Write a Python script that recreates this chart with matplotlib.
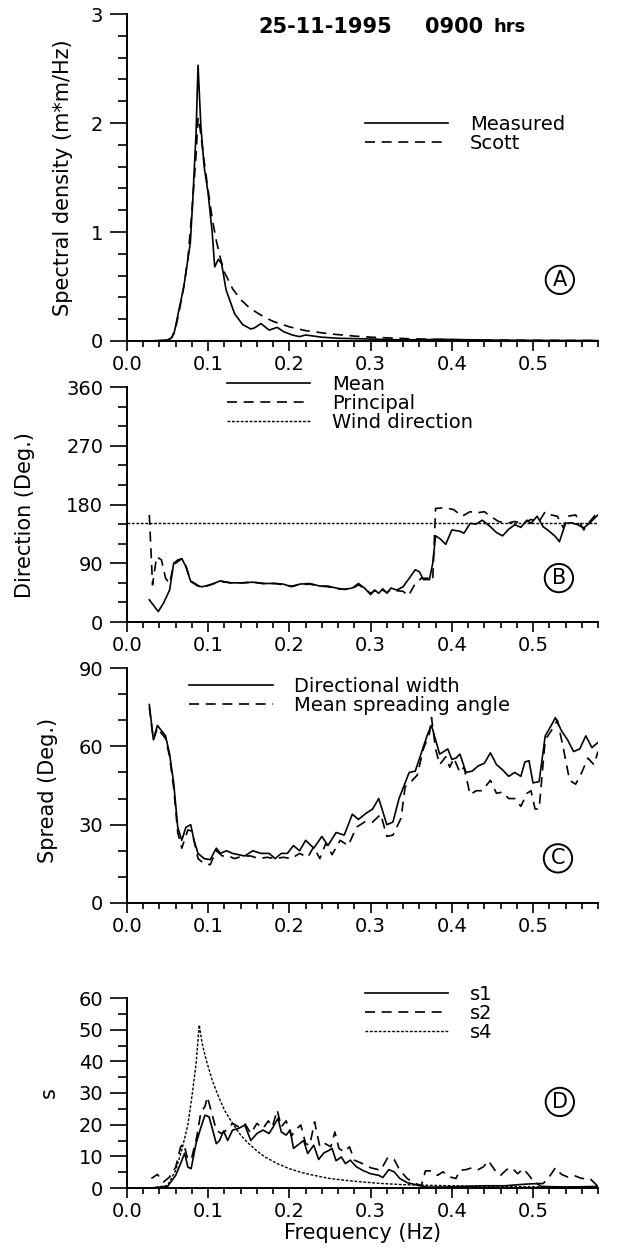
"""Four-panel wave spectrum figure (25-11-1995, 0900 hrs): spectral density,
mean/principal direction, directional spread and spreading parameter s."""
import matplotlib

matplotlib.use("Agg")
import matplotlib.pyplot as plt
from matplotlib.ticker import MultipleLocator, FormatStrFormatter

plt.rcParams["font.family"] = ["DejaVu Sans"]

# ---- panel A: spectral density (m*m/Hz) ----
A_meas_f = [0.028, 0.04, 0.05, 0.055, 0.058, 0.063, 0.07, 0.078, 0.081, 0.085, 0.0875,
            0.091, 0.095, 0.1, 0.105, 0.108, 0.1125, 0.1165, 0.122, 0.1325, 0.1425,
            0.1525, 0.157, 0.165, 0.175, 0.185, 0.193, 0.2035, 0.2125, 0.22, 0.24,
            0.26, 0.29, 0.34, 0.39, 0.45, 0.52, 0.58]
A_meas = [0.0, 0.005, 0.01, 0.03, 0.07, 0.25, 0.5, 0.9, 1.29, 1.9, 2.53,
          1.97, 1.6, 1.35, 0.99, 0.68, 0.75, 0.71, 0.47, 0.25, 0.15,
          0.11, 0.12, 0.16, 0.10, 0.125, 0.085, 0.055, 0.04, 0.055, 0.035,
          0.025, 0.02, 0.01, 0.015, 0.008, 0.005, 0.004]
A_scott_f = [0.03, 0.05, 0.055, 0.06, 0.065, 0.07, 0.075, 0.08, 0.085, 0.0875, 0.09,
             0.095, 0.1, 0.105, 0.11, 0.115, 0.12, 0.13, 0.14, 0.15, 0.16, 0.17,
             0.18, 0.2, 0.22, 0.25, 0.28, 0.3, 0.35, 0.4, 0.45, 0.5, 0.58]
A_scott = [0.0, 0.005, 0.03, 0.12, 0.3, 0.5, 0.75, 1.2, 1.7, 2.05, 1.95,
           1.65, 1.38, 1.12, 0.92, 0.76, 0.63, 0.48, 0.38, 0.31, 0.26, 0.215,
           0.18, 0.13, 0.095, 0.065, 0.045, 0.035, 0.02, 0.012, 0.008, 0.006, 0.004]

# ---- panel B: direction (deg) ----
B_mean_f = [0.0275, 0.0385, 0.045, 0.0525, 0.0575, 0.0625, 0.0675, 0.0725, 0.0785, 0.0875,
            0.0925, 0.1025, 0.115, 0.1275, 0.1425, 0.155, 0.1675, 0.1825, 0.1925, 0.2025,
            0.2125, 0.225, 0.2375, 0.2475, 0.2575, 0.2675, 0.2775, 0.285, 0.2925, 0.3,
            0.305, 0.31, 0.315, 0.32, 0.325, 0.3325, 0.34, 0.3475, 0.355, 0.36,
            0.365, 0.3725, 0.3765, 0.38, 0.385, 0.3925, 0.4, 0.41, 0.415, 0.4225,
            0.43, 0.4375, 0.4475, 0.455, 0.4625, 0.47, 0.4775, 0.485, 0.4925, 0.4975,
            0.505, 0.5125, 0.52, 0.5275, 0.5325, 0.54, 0.5475, 0.555, 0.5625, 0.57, 0.58]
B_mean = [34, 16, 29, 49, 90, 95, 97, 85, 62, 55,
          54, 57, 63, 60, 60, 61, 59, 59, 58, 54,
          58, 59, 55, 55, 52, 50, 52, 59, 52, 42,
          49, 44, 51, 44, 52, 49, 54, 67, 80, 77,
          65, 65, 90, 132, 128, 119, 141, 139, 136, 151,
          150, 156, 146, 137, 132, 142, 149, 145, 156, 151,
          162, 146, 139, 131, 123, 151, 152, 149, 144, 152, 164]
B_prin_f = [0.0275, 0.0315, 0.0365, 0.0425, 0.0475, 0.0525, 0.0575, 0.0675, 0.0725, 0.0785,
            0.0875, 0.0925, 0.1025, 0.115, 0.1275, 0.1425, 0.155, 0.1675, 0.1825, 0.1925,
            0.2025, 0.2125, 0.225, 0.2375, 0.2475, 0.2575, 0.2675, 0.2775, 0.285, 0.2925,
            0.3, 0.305, 0.31, 0.315, 0.32, 0.325, 0.3325, 0.34, 0.3465, 0.355,
            0.3625, 0.3725, 0.3765, 0.38, 0.3925, 0.4025, 0.4125, 0.4225, 0.43, 0.44,
            0.4475, 0.4575, 0.4675, 0.4775, 0.4875, 0.4975, 0.5075, 0.515, 0.5225, 0.53,
            0.5375, 0.5425, 0.5525, 0.5625, 0.57, 0.58]
B_prin = [164, 57, 100, 95, 67, 59, 88, 97, 86, 63,
          56, 53, 57, 62, 60, 60, 61, 59, 59, 57,
          55, 57, 58, 55, 54, 51, 50, 51, 57, 51,
          44, 48, 45, 49, 45, 50, 48, 47, 40, 59,
          67, 67, 64, 174, 175, 172, 162, 169, 167, 169,
          162, 154, 151, 154, 151, 157, 154, 169, 164, 162,
          144, 162, 164, 141, 154, 169]
WIND_DIR = 152

# ---- panel C: spread (deg) ----
C_width_f = [0.0275, 0.0325, 0.0375, 0.0425, 0.0475, 0.0525, 0.0575, 0.0625, 0.0675, 0.0725,
             0.0785, 0.0825, 0.0875, 0.095, 0.1025, 0.11, 0.115, 0.1225, 0.13, 0.1375,
             0.145, 0.155, 0.165, 0.175, 0.1825, 0.19, 0.1975, 0.205, 0.2125, 0.22,
             0.23, 0.24, 0.2475, 0.2575, 0.2675, 0.2775, 0.285, 0.295, 0.3025, 0.31,
             0.32, 0.3275, 0.335, 0.3425, 0.3475, 0.355, 0.3625, 0.37, 0.375, 0.38,
             0.385, 0.39, 0.395, 0.4, 0.405, 0.41, 0.4175, 0.425, 0.4325, 0.44,
             0.4475, 0.455, 0.4625, 0.47, 0.4775, 0.485, 0.49, 0.495, 0.5, 0.5075,
             0.515, 0.5225, 0.5275, 0.535, 0.5425, 0.55, 0.5575, 0.565, 0.5725, 0.58]
C_width = [76, 62.5, 68, 66, 64, 57, 46, 29, 24, 29,
           30, 24, 19, 17, 16.6, 21, 19, 20, 19, 18.5,
           18, 20, 19, 19, 17, 19, 19, 22, 20, 24,
           21, 25.5, 22, 27, 26, 34, 32, 34.5, 36, 40,
           30, 31, 40, 46, 50, 50.5, 57.5, 64.5, 68, 62.5,
           57, 58, 59, 55, 55.5, 57, 50, 50.5, 52.5, 53.5,
           57.5, 53, 51, 48.5, 50, 48.5, 54, 54.5, 46, 46.5,
           64, 68, 71, 66, 62.5, 58, 59, 64, 59.5, 61.5]
C_ms_f = [0.0275, 0.0325, 0.0375, 0.0425, 0.0475, 0.0525, 0.0575, 0.0625, 0.0675, 0.075,
          0.08, 0.0875, 0.095, 0.1025, 0.11, 0.1175, 0.125, 0.1325, 0.1425, 0.1525,
          0.1625, 0.1725, 0.1825, 0.1925, 0.2025, 0.2125, 0.2225, 0.23, 0.2375, 0.245,
          0.2525, 0.2625, 0.2725, 0.2825, 0.2925, 0.3025, 0.3125, 0.32, 0.3275, 0.3375,
          0.3425, 0.35, 0.3575, 0.365, 0.3725, 0.375, 0.38, 0.385, 0.3925, 0.3975,
          0.4025, 0.41, 0.415, 0.4225, 0.43, 0.4375, 0.4475, 0.455, 0.4625, 0.47,
          0.4775, 0.485, 0.4925, 0.4975, 0.5025, 0.5075, 0.515, 0.5225, 0.53, 0.5375,
          0.545, 0.5525, 0.56, 0.5675, 0.575, 0.58]
C_ms = [75, 62.5, 67, 65, 63, 56, 44, 27, 21, 28,
        27.5, 17, 15, 14.7, 20, 18, 18, 17, 18, 18,
        17, 17.5, 17, 17.5, 17, 19, 17.5, 21.5, 17, 23,
        18.5, 24, 22, 29, 31, 31, 34, 25.5, 26, 32.5,
        44.5, 46.5, 49, 59, 65, 71, 59, 53, 56, 52,
        55.5, 50, 52, 41.5, 43, 43, 47, 42, 42.5, 40,
        40, 37, 42, 43, 36, 36, 62.5, 66, 70, 59,
        47, 45.5, 50, 55.5, 53, 58]

# ---- panel D: spreading parameter s ----
D_s1_f = [0.03, 0.05, 0.06, 0.066, 0.071, 0.075, 0.079, 0.085, 0.09, 0.096,
          0.101, 0.105, 0.11, 0.114, 0.119, 0.124, 0.13, 0.1375, 0.145, 0.1525,
          0.16, 0.1675, 0.175, 0.18, 0.186, 0.19, 0.196, 0.201, 0.205, 0.2125,
          0.2175, 0.2225, 0.23, 0.236, 0.2425, 0.249, 0.2525, 0.2575, 0.264, 0.269,
          0.275, 0.2825, 0.29, 0.3, 0.31, 0.315, 0.3225, 0.329, 0.336, 0.345,
          0.36, 0.37, 0.39, 0.415, 0.44, 0.465, 0.49, 0.505, 0.51, 0.54, 0.58]
D_s1 = [0, 0.5, 4, 7.7, 11, 6.6, 6.1, 14, 18.3, 23,
        22.5, 18.8, 14, 15, 18, 15, 18.3, 18.8, 19.9, 15,
        17.2, 18.3, 17.2, 19.3, 22, 17.7, 16.7, 18.3, 12.5, 14,
        15, 10.9, 13.5, 9, 11.1, 11.9, 12.5, 8.6, 9.8, 7.7,
        8.8, 6.7, 5.6, 4.5, 4, 3.3, 5.8, 5.1, 3, 1.7,
        0.74, 0.3, 0.3, 0.5, 0.7, 0.7, 1.2, 1.4, 0.5, 0.3, 0.5]
D_s2_f = [0.03, 0.0375, 0.045, 0.0525, 0.06, 0.066, 0.07, 0.075, 0.08, 0.086,
          0.091, 0.096, 0.099, 0.104, 0.11, 0.116, 0.1225, 0.13, 0.1375, 0.145,
          0.1525, 0.16, 0.1675, 0.174, 0.179, 0.185, 0.19, 0.196, 0.2025, 0.2075,
          0.214, 0.22, 0.225, 0.231, 0.2375, 0.244, 0.251, 0.256, 0.261, 0.2675,
          0.274, 0.28, 0.29, 0.3, 0.3125, 0.321, 0.329, 0.336, 0.345, 0.355,
          0.3625, 0.3675, 0.375, 0.3825, 0.389, 0.3975, 0.405, 0.41, 0.4175, 0.425,
          0.4325, 0.439, 0.445, 0.4525, 0.46, 0.4675, 0.474, 0.481, 0.488, 0.495,
          0.5025, 0.5125, 0.52, 0.5275, 0.535, 0.5425, 0.55, 0.56, 0.57, 0.58]
D_s2 = [3, 4.3, 1.9, 3.5, 6.6, 13, 14, 8.8, 9.8, 16.2,
        24, 25.7, 28.8, 24, 18.3, 17.2, 18.3, 20.4, 19.3, 20.4,
        17.2, 20.4, 18.8, 21.2, 19.3, 24.6, 19.3, 21.2, 16.4, 18.3,
        19.9, 14, 13.5, 20.9, 13, 14, 13, 17.7, 12.5, 11.4,
        13, 8.8, 7.7, 6.4, 5.6, 9.6, 9, 5.6, 3, 1.4,
        0.8, 5.4, 5.4, 4, 5.1, 3.5, 3, 5.6, 5.8, 6.4,
        5.8, 6.7, 8.6, 5.8, 4, 5.8, 6.4, 4.5, 6.1, 4,
        1.4, 1.4, 3.5, 6.4, 4.3, 3.5, 4, 3, 3, 0.5]
D_s4_f = [0.03, 0.05, 0.06, 0.0675, 0.075, 0.08, 0.085, 0.089, 0.0925, 0.0975,
          0.105, 0.1125, 0.12, 0.13, 0.14, 0.15, 0.16, 0.17, 0.185, 0.2,
          0.215, 0.23, 0.25, 0.27, 0.29, 0.315, 0.34, 0.39, 0.44, 0.49, 0.58]
D_s4 = [0, 0.8, 5.6, 12, 20, 29, 39, 51.5, 45.7, 40.5,
        34, 29, 24.6, 20.4, 16.7, 14, 11.7, 9.8, 7.7, 6.1,
        4.9, 4, 3, 2.4, 1.9, 1.4, 1.05, 0.75, 0.5, 0.4, 0.3]

SOLID = "-"
DASHED = (0, (6, 4))
DOTTED = (0, (2, 1.2))
LW = 1.2


def style_axes(ax, ymax, ymajor, yminor):
    ax.set_xlim(0, 0.58)
    ax.set_ylim(0, ymax)
    for side in ("top", "right"):
        ax.spines[side].set_visible(False)
    for side in ("left", "bottom"):
        ax.spines[side].set_linewidth(1.4)
    ax.xaxis.set_major_locator(MultipleLocator(0.1))
    ax.xaxis.set_minor_locator(MultipleLocator(0.02))
    ax.xaxis.set_major_formatter(FormatStrFormatter("%.1f"))
    ax.yaxis.set_major_locator(MultipleLocator(ymajor))
    ax.yaxis.set_minor_locator(MultipleLocator(yminor))
    ax.tick_params(axis="x", which="major", length=7, width=1.2, pad=3, labelsize=14)
    ax.tick_params(axis="x", which="minor", length=4.5, width=1.2)
    ax.tick_params(axis="y", which="major", length=12, width=1.2, pad=5, labelsize=14)
    ax.tick_params(axis="y", which="minor", length=6.5, width=1.2)


def ylabel(ax, text, x, y=0.5):
    ax.set_ylabel(text, fontsize=15)
    ax.yaxis.set_label_coords(x, y)
    ax.yaxis.label.set_va("center")


def legend(ax, x, y):
    ax.legend(loc="upper left", bbox_to_anchor=(x, y), frameon=False, fontsize=14,
              handlelength=4.3, handletextpad=1.1, borderpad=0, borderaxespad=0,
              labelspacing=0.0)


def tag(ax, letter, x, y):
    ax.text(x, y, letter, transform=ax.transAxes, ha="center", va="center", fontsize=15,
            bbox=dict(boxstyle="circle,pad=0.2", fc="none", ec="black", lw=1.4))


fig = plt.figure(figsize=(6.33, 12.5), dpi=100)
L, W = 0.2006, 0.7441

# A
ax = fig.add_axes([L, 0.7272, W, 0.2616])
ax.plot(A_meas_f, A_meas, color="black", ls=SOLID, lw=LW, label="Measured")
ax.plot(A_scott_f, A_scott, color="black", ls=DASHED, lw=LW, label="Scott")
style_axes(ax, 3, 1, 0.2)
ylabel(ax, "Spectral density (m*m/Hz)", -0.136)
legend(ax, 0.505, 0.692)
tag(ax, "A", 0.919, 0.187)

# B
ax = fig.add_axes([L, 0.5024, W, 0.188])
ax.plot(B_mean_f, B_mean, color="black", ls=SOLID, lw=LW, label="Mean")
ax.plot(B_prin_f, B_prin, color="black", ls=DASHED, lw=LW, label="Principal")
ax.axhline(WIND_DIR, color="black", ls=DOTTED, lw=1.0, label="Wind direction")
style_axes(ax, 360, 90, 30)
ylabel(ax, "Direction (Deg.)", -0.217, 0.455)
legend(ax, 0.212, 1.052)
tag(ax, "B", 0.917, 0.187)

# C
ax = fig.add_axes([L, 0.2776, W, 0.188])
ax.plot(C_width_f, C_width, color="black", ls=SOLID, lw=LW, label="Directional width")
ax.plot(C_ms_f, C_ms, color="black", ls=DASHED, lw=LW, label="Mean spreading angle")
style_axes(ax, 90, 30, 10)
ylabel(ax, "Spread (Deg.)", -0.168, 0.48)
legend(ax, 0.132, 0.963)
tag(ax, "C", 0.915, 0.19)

# D
ax = fig.add_axes([L, 0.0496, W, 0.152])
ax.plot(D_s1_f, D_s1, color="black", ls=SOLID, lw=LW, label="s1")
ax.plot(D_s2_f, D_s2, color="black", ls=DASHED, lw=LW, label="s2")
ax.plot(D_s4_f, D_s4, color="black", ls=DOTTED, lw=1.0, label="s4")
style_axes(ax, 60, 10, 5)
ylabel(ax, "s", -0.166)
ax.set_xlabel("Frequency (Hz)", fontsize=15)
ax.xaxis.set_label_coords(0.5, -0.237)
ax.xaxis.label.set_va("center")
legend(ax, 0.505, 1.07)
tag(ax, "D", 0.919, 0.453)

fig.text(0.4076, 0.9784, "25-11-1995", fontsize=15, fontweight="bold", va="center")
fig.text(0.6714, 0.9784, "0900", fontsize=15, fontweight="bold", va="center")
fig.text(0.779, 0.9784, "hrs", fontsize=13, fontweight="bold", va="center")

fig.savefig("out.png", dpi=100)
